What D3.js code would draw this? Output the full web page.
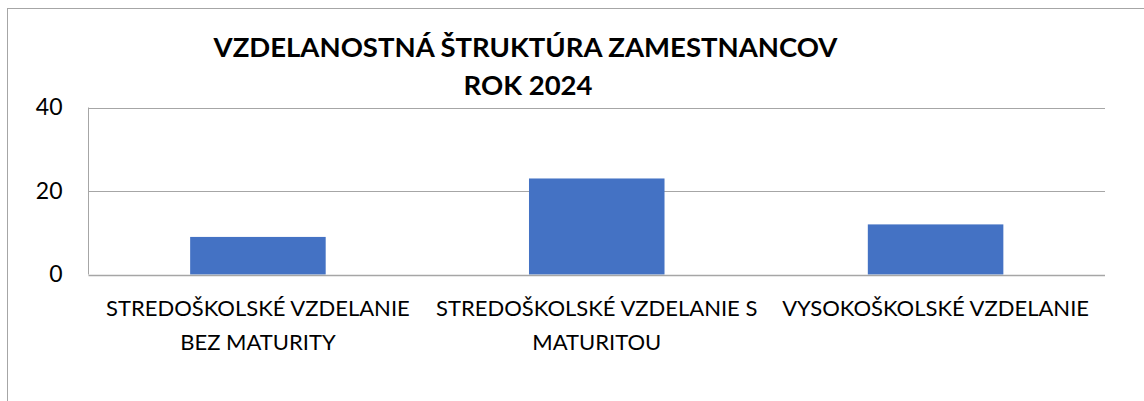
<!DOCTYPE html>
<html>
<head>
<meta charset="utf-8">
<script src="https://cdn.jsdelivr.net/npm/d3@7"></script>
<style>
  html, body { margin: 0; padding: 0; background: #fff; overflow: hidden; }
  text { font-family: Lato, "Open Sans", sans-serif; fill: #000; }
</style>
</head>
<body>
<script>
'use strict';

// chart data
const categories = [
  ["STREDOŠKOLSKÉ VZDELANIE", "BEZ MATURITY"],
  ["STREDOŠKOLSKÉ VZDELANIE S", "MATURITOU"],
  ["VYSOKOŠKOLSKÉ VZDELANIE"]
];
const values = [9, 23, 12];
const yTicks = [0, 20, 40];
const titleLines = ["VZDELANOSTNÁ ŠTRUKTÚRA ZAMESTNANCOV", "ROK 2024"];

(function() {
  const width = 1144, height = 401;
  const plot = {left: 88.5, right: 1105, top: 107.5, bottom: 274.5};

  const svg = d3.select('body')
    .append('svg')
    .attr('width', width)
    .attr('height', height);

  // outer chart border (only top and left edges are in view)
  svg.append('rect')
    .attr('x', 7.5)
    .attr('y', 8.5)
    .attr('width', width + 20)
    .attr('height', height + 20)
    .attr('fill', 'none')
    .attr('stroke', '#a6a6a6')
    .attr('stroke-width', 1);

  // title
  svg.append('text')
    .attr('x', 525.5)
    .attr('y', 57)
    .attr('text-anchor', 'middle')
    .style('font-size', '27.5px')
    .style('font-weight', 'bold')
    .text(titleLines[0]);

  svg.append('text')
    .attr('x', 528)
    .attr('y', 95)
    .attr('text-anchor', 'middle')
    .style('font-size', '27.5px')
    .style('font-weight', 'bold')
    .text(titleLines[1]);

  let xScale = d3.scaleBand()
    .domain(d3.range(values.length))
    .range([plot.left, plot.right])
    .paddingInner(0.6)
    .paddingOuter(0.3);

  let yScale = d3.scaleLinear()
    .domain([0, 40])
    .range([plot.bottom, plot.top]);

  // gridlines
  svg.append('g')
    .selectAll('line')
    .data(yTicks.filter(d => d > 0))
    .enter()
    .append('line')
      .attr('x1', plot.left)
      .attr('x2', plot.right)
      .attr('y1', d => Math.round(yScale(d)) + 0.5)
      .attr('y2', d => Math.round(yScale(d)) + 0.5)
      .attr('stroke', '#a6a6a6')
      .attr('stroke-width', 1);

  // left plot edge
  svg.append('line')
    .attr('x1', plot.left)
    .attr('x2', plot.left)
    .attr('y1', yScale(40))
    .attr('y2', yScale(0))
    .attr('stroke', '#a6a6a6')
    .attr('stroke-width', 1);

  // y axis labels
  let yAxis = d3.axisLeft(yScale).tickValues(yTicks).tickSize(0).tickPadding(26);
  let yG = svg.append('g')
    .attr('transform', 'translate(' + plot.left + ', 0)')
    .call(yAxis);
  yG.select('.domain').remove();
  yG.selectAll('text')
    .style('font-family', 'Lato, "Open Sans", sans-serif')
    .style('font-size', '23px')
    .attr('fill', '#000');

  // bars
  svg.append('g')
    .selectAll('rect')
    .data(values)
    .enter()
    .append('rect')
      .attr('x', (d, i) => xScale(i))
      .attr('y', d => yScale(d))
      .attr('width', xScale.bandwidth())
      .attr('height', d => yScale(0) - yScale(d))
      .attr('fill', '#4472c4');

  // zero line
  svg.append('line')
    .attr('x1', plot.left)
    .attr('x2', plot.right)
    .attr('y1', Math.round(yScale(0)) + 0.5)
    .attr('y2', Math.round(yScale(0)) + 0.5)
    .attr('stroke', '#a6a6a6')
    .attr('stroke-width', 1.5);

  // category labels
  let labels = svg.append('g')
    .selectAll('text')
    .data(categories)
    .enter()
    .append('text')
      .attr('text-anchor', 'middle')
      .style('font-size', '22px');

  labels.selectAll('tspan')
    .data((d, i) => d.map(line => ({line: line, i: i})))
    .enter()
    .append('tspan')
      .attr('x', d => xScale(d.i) + xScale.bandwidth() / 2)
      .attr('y', (d, j) => 316 + j * 33.5)
      .text(d => d.line);
})();
</script>
</body>
</html>
